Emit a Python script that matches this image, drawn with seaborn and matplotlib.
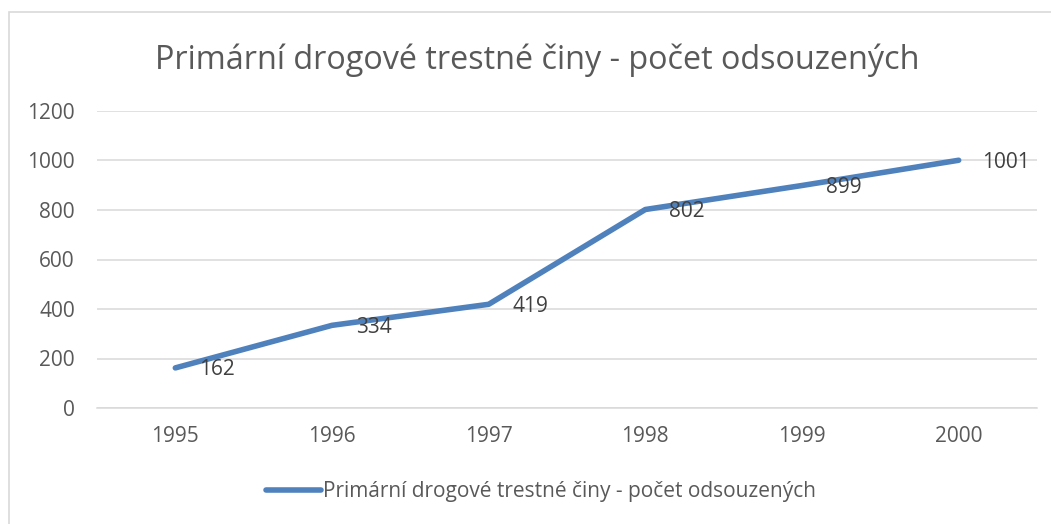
import matplotlib
matplotlib.use('Agg')
import matplotlib.pyplot as plt
import matplotlib.patches as mpatches
import seaborn as sns
import pandas as pd

# data
years = ['1995', '1996', '1997', '1998', '1999', '2000']
convicted = [162, 334, 419, 802, 899, 1001]
series_name = 'Primární drogové trestné činy - počet odsouzených'
yticks = [0, 200, 400, 600, 800, 1000, 1200]

sns.set_style('white')
plt.rcParams['font.family'] = ['Open Sans', 'DejaVu Sans']

df = pd.DataFrame({'year': years, 'value': convicted})

fig = plt.figure(figsize=(10.51, 5.24), dpi=100)
ax = fig.add_axes([97 / 1051, 1 - 408 / 524, 940 / 1051, 297 / 524])

line_color = '#4F81BD'
sns.lineplot(data=df, x='year', y='value', ax=ax, color=line_color,
             linewidth=4, solid_capstyle='round', label=series_name,
             legend=False)

ax.set_xlim(-0.5, len(years) - 0.5)
ax.set_ylim(0, 1200)
ax.set_yticks(yticks)
ax.set_yticklabels([str(t) for t in yticks])
ax.yaxis.grid(True, color='#D9D9D9', linewidth=1.1)
ax.set_axisbelow(True)
for s in ['top', 'right', 'left']:
    ax.spines[s].set_visible(False)
ax.spines['bottom'].set_color('#D9D9D9')
ax.spines['bottom'].set_linewidth(1.1)
ax.tick_params(axis='both', length=0, labelsize=15, labelcolor='#595959')
ax.tick_params(axis='y', pad=16)
ax.tick_params(axis='x', pad=13)
ax.set_xlabel('')
ax.set_ylabel('')

for i, v in enumerate(convicted):
    ax.annotate(str(v), (i, v), xytext=(17, -1.5), textcoords='offset points',
                ha='left', va='center', fontsize=15, color='#404040')

fig.text(537 / 1051, 1 - 60 / 524, series_name, ha='center', va='center',
         fontsize=23.3, color='#595959')

handles, labels = ax.get_legend_handles_labels()
fig.legend(handles, labels, loc='center', bbox_to_anchor=(541 / 1051, 1 - 492 / 524),
           frameon=False, fontsize=15, handlelength=2.6, handletextpad=0.1,
           labelcolor='#595959')

fig.patches.append(mpatches.Rectangle((9 / 1051, -0.1), 1.1, 1 - 12 / 524 + 0.1,
                                      transform=fig.transFigure, fill=False,
                                      edgecolor='#D9D9D9', linewidth=1.2))

fig.savefig('out.png', dpi=100)
